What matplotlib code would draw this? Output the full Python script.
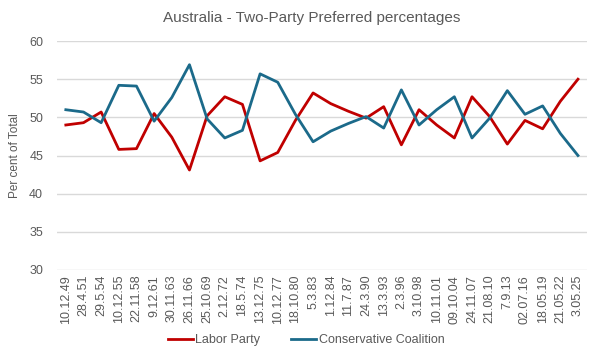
import matplotlib
matplotlib.use('Agg')
import matplotlib.pyplot as plt

plt.rcParams['font.family'] = ['Liberation Sans', 'DejaVu Sans']

# Election dates and two-party preferred results
dates = ['10.12.49', '28.4.51', '29.5.54', '10.12.55', '22.11.58', '9.12.61', '30.11.63',
         '26.11.66', '25.10.69', '2.12.72', '18.5.74', '13.12.75', '10.12.77', '18.10.80',
         '5.3.83', '1.12.84', '11.7.87', '24.3.90', '13.3.93', '2.3.96', '3.10.98',
         '10.11.01', '09.10.04', '24.11.07', '21.08.10', '7.9.13', '02.07.16', '18.05.19',
         '21.05.22', '3.05.25']
labor = [49.0, 49.3, 50.7, 45.8, 45.9, 50.5, 47.4, 43.1, 50.2, 52.7, 51.7, 44.3, 45.4, 49.6,
         53.2, 51.8, 50.8, 49.9, 51.4, 46.4, 51.0, 49.0, 47.3, 52.7, 50.1, 46.5, 49.6, 48.5,
         52.1, 55.0]
coalition = [51.0, 50.7, 49.3, 54.2, 54.1, 49.5, 52.6, 56.9, 49.8, 47.3, 48.3, 55.7, 54.6, 50.4,
             46.8, 48.2, 49.2, 50.1, 48.6, 53.6, 49.0, 51.0, 52.7, 47.3, 49.9, 53.5, 50.4, 51.5,
             47.9, 45.0]

text_col = '#595959'

fig = plt.figure(figsize=(6, 3.6), dpi=100)
ax = fig.add_axes([0.095, 0.25, 0.883, 0.636])

x = range(len(dates))
ax.plot(x, labor, color='#C00000', lw=2, label='Labor Party')
ax.plot(x, coalition, color='#1B6A8A', lw=2, label='Conservative Coalition')

ax.set_xlim(-0.5, len(dates) - 0.5)
ax.set_ylim(30, 60)
ax.set_yticks(range(30, 61, 5))
ax.set_xticks(list(x))
ax.set_xticklabels(dates, rotation=90)
ax.tick_params(axis='both', length=0, colors=text_col, labelsize=9)
ax.tick_params(axis='y', pad=10)
ax.grid(axis='y', color='#D9D9D9', lw=1)
ax.set_axisbelow(True)
for s in ax.spines.values():
    s.set_visible(False)

ax.set_ylabel('Per cent of Total', color=text_col, fontsize=8.5, labelpad=6)
fig.suptitle('Australia - Two-Party Preferred percentages', x=0.52, y=0.97,
             color=text_col, fontsize=11)

fig.legend(loc='center', bbox_to_anchor=(0.51, 0.055), ncol=2, frameon=False,
           fontsize=9, labelcolor=text_col, handlelength=2.0, handletextpad=0.2,
           columnspacing=2.5)

fig.savefig('out.png', dpi=100)
